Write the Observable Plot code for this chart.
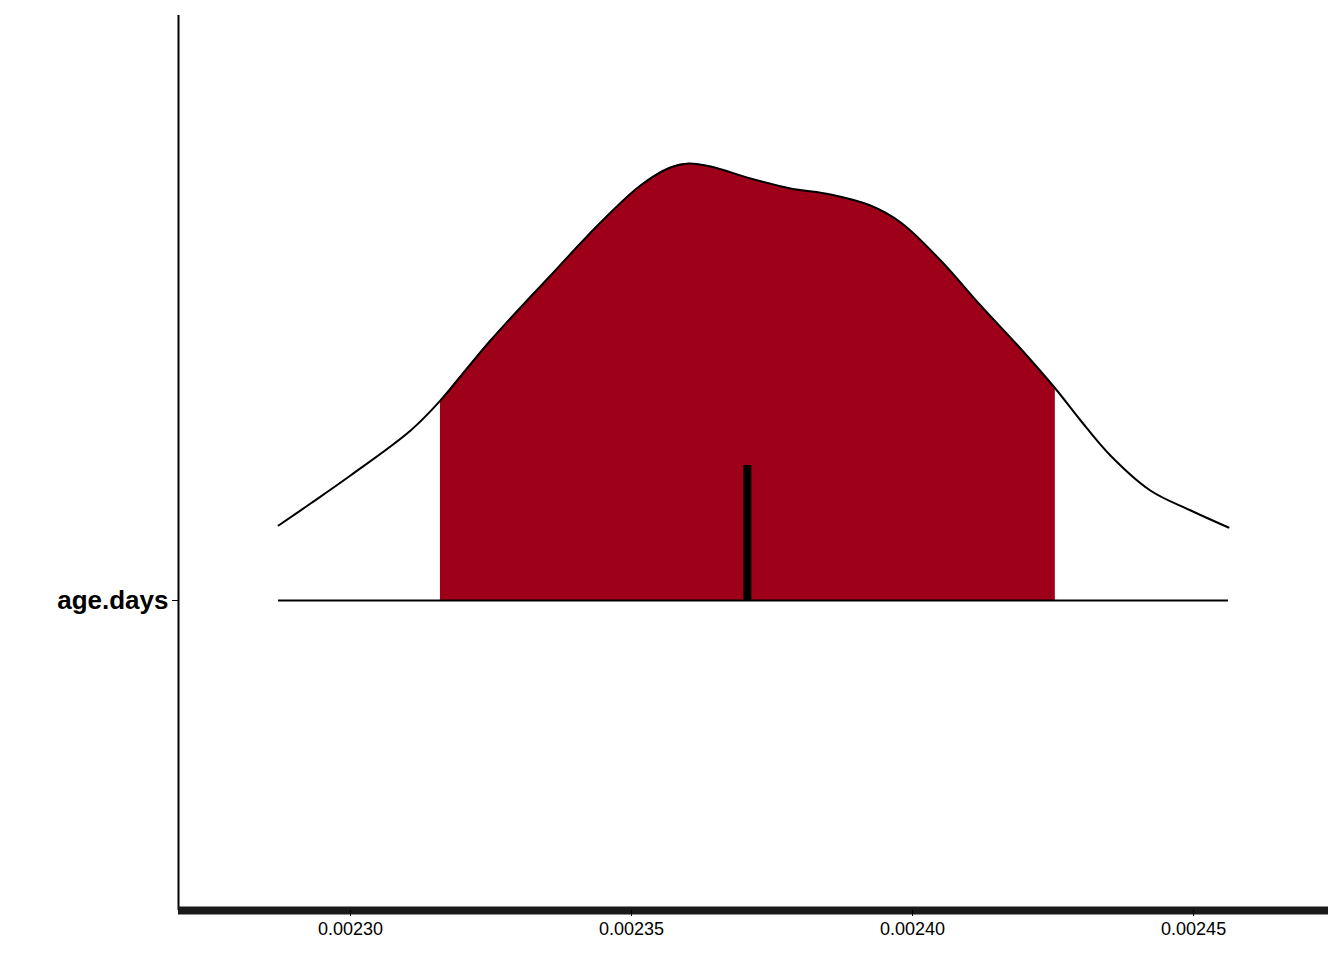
<!DOCTYPE html>
<html>
<head>
<meta charset="utf-8">
<script src="https://cdn.jsdelivr.net/npm/d3@7"></script>
<script src="https://cdn.jsdelivr.net/npm/@observablehq/plot@0.6"></script>
<style>body{margin:0;background:#fff;font-family:"Liberation Sans",Arial,sans-serif}</style>
</head>
<body>
<div id="chart"></div>
<script>
// posterior draws density for age.days
const xs = [0.0022872, 0.0022929, 0.0023000, 0.0023107, 0.0023160, 0.0023249, 0.0023356, 0.0023445,
  0.0023516, 0.0023569, 0.0023601, 0.0023641, 0.0023712, 0.0023783, 0.0023854, 0.0023925, 0.0023979,
  0.0024050, 0.0024121, 0.0024192, 0.0024254, 0.0024299, 0.0024352, 0.0024423, 0.0024495, 0.0024562]
const dens = [75, 97, 125, 170, 200, 260, 325, 378, 415, 433, 437, 434, 422, 412, 406, 395, 378,
  340, 295, 252, 212, 180, 145, 110, 90, 73]
const ciLow = 0.0023160, ciHigh = 0.0024254
const median = 0.0023706, medianDens = 135
const xTicks = [0.0023, 0.00235, 0.0024, 0.00245]

const data = xs.map((x, i) => ({x, d: dens[i]}))
const inner = data.filter(p => p.x >= ciLow && p.x <= ciHigh)
const xMin = 0.0022694, xMax = 0.002474, yMin = -310, yMax = 585

const chart = Plot.plot({
  width: 1344, height: 960,
  marginLeft: 178, marginRight: 16, marginTop: 15, marginBottom: 50,
  x: {domain: [xMin, xMax]},
  y: {domain: [yMin, yMax]},
  style: {fontFamily: "Liberation Sans, Arial, sans-serif", color: "#000"},
  marks: [
    Plot.areaY(inner, {x: "x", y1: 0, y2: "d", fill: "#9e0019", curve: "catmull-rom"}),
    Plot.lineY(data, {x: "x", y: "d", stroke: "#000", strokeWidth: 2, curve: "catmull-rom"}),
    Plot.ruleY([0], {x1: xs[0], x2: xs[xs.length - 1], stroke: "#000", strokeWidth: 2}),
    Plot.ruleX([median], {y1: 0, y2: medianDens, stroke: "#000", strokeWidth: 8}),
    Plot.ruleX([xMin], {stroke: "#000", strokeWidth: 2}),
    Plot.ruleY([yMin], {stroke: "#1a1a1a", strokeWidth: 8}),
    Plot.axisX({ticks: xTicks, tickFormat: d3.format(".5f"), fontSize: 18, tickSize: 6, tickPadding: 6, label: null}),
    Plot.axisY({ticks: [0], tickFormat: () => "age.days", fontSize: 26, fontWeight: "bold", tickSize: 6, tickPadding: 4, label: null})
  ]
})
d3.select('#chart').append(() => chart)
</script>
</body>
</html>
